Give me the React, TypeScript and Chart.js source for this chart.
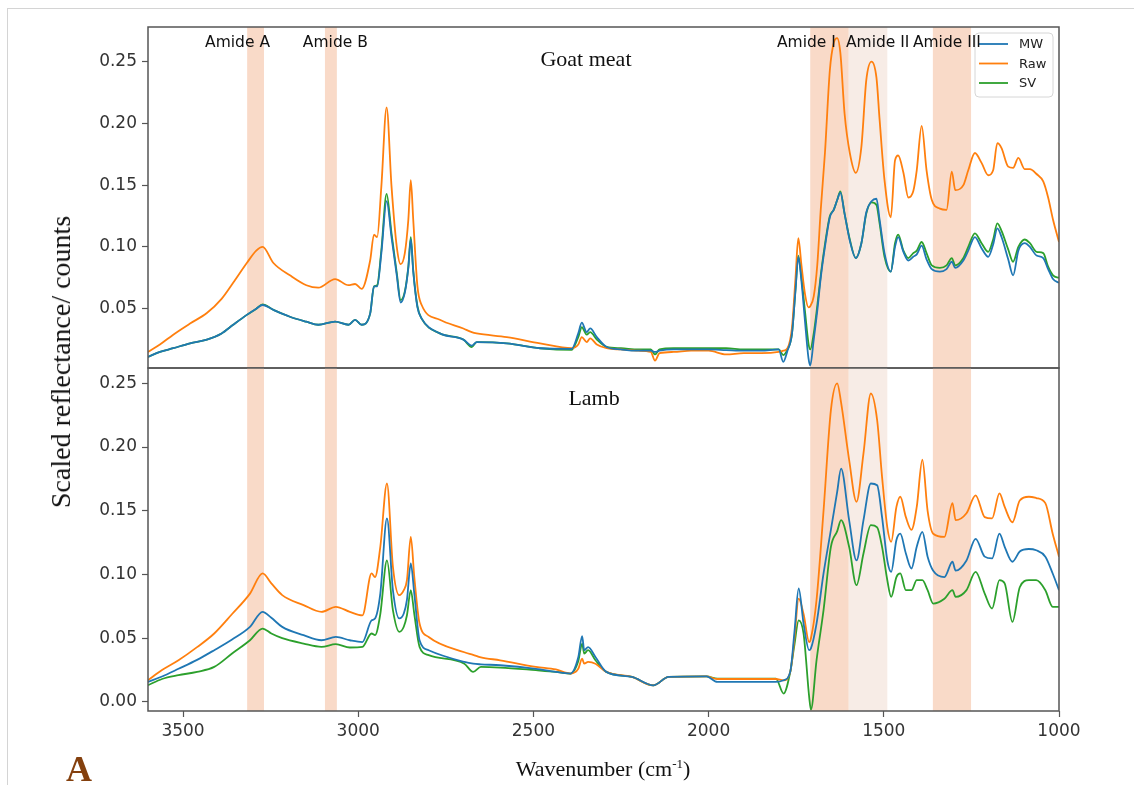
import React, { useEffect, useRef } from "react";
import { Chart, registerables } from "chart.js";

Chart.register(...registerables);

// ---- Goat meat spectra (wavenumber in cm-1, scaled reflectance) ----
const goatWavenumbers = [
  3600, 3566, 3528, 3480, 3432, 3390, 3357, 3318, 3291, 3273,
  3242, 3195, 3148, 3114, 3066, 3028, 3009, 2990, 2966, 2955,
  2946, 2934, 2919, 2905, 2890, 2879, 2867, 2857, 2850, 2843,
  2831, 2819, 2767, 2700, 2676, 2662, 2576, 2481, 2391, 2372,
  2362, 2348, 2338, 2319, 2291, 2250, 2200, 2165, 2153, 2140,
  2100, 2050, 2000, 1950, 1900, 1850, 1800, 1787, 1775, 1762,
  1752, 1744, 1735, 1725, 1715, 1710, 1700, 1690, 1680, 1668,
  1654, 1643, 1633, 1624, 1612, 1597, 1580, 1564, 1550, 1535,
  1521, 1512, 1498, 1480, 1468, 1459, 1444, 1430, 1416, 1406,
  1392, 1378, 1363, 1340, 1321, 1306, 1296, 1273, 1259, 1240,
  1221, 1202, 1188, 1176, 1164, 1145, 1131, 1116, 1098, 1083,
  1064, 1045, 1031, 1017, 1000,
];
const goatRaw = [
  0.015, 0.021, 0.029, 0.038, 0.0465, 0.058, 0.071, 0.087, 0.097, 0.1,
  0.087, 0.077, 0.069, 0.067, 0.074, 0.069, 0.07, 0.066, 0.089, 0.11,
  0.108, 0.149, 0.213, 0.149, 0.1, 0.086, 0.095, 0.122, 0.154, 0.122,
  0.068, 0.053, 0.041, 0.034, 0.031, 0.03, 0.027, 0.022, 0.018, 0.021,
  0.027, 0.023, 0.026, 0.021, 0.018, 0.017, 0.016, 0.015, 0.008, 0.014,
  0.015, 0.016, 0.016, 0.013, 0.014, 0.014, 0.015, 0.016, 0.018, 0.035,
  0.075, 0.107, 0.085, 0.062, 0.051, 0.052, 0.06, 0.085, 0.13, 0.176,
  0.243, 0.265, 0.269, 0.257, 0.208, 0.176, 0.16, 0.181, 0.235, 0.25,
  0.237, 0.203, 0.154, 0.124, 0.17, 0.174, 0.16, 0.14, 0.145, 0.162,
  0.198, 0.162, 0.138, 0.131, 0.13, 0.161, 0.146, 0.15, 0.162, 0.176,
  0.168, 0.158, 0.162, 0.184, 0.18, 0.165, 0.164, 0.172, 0.163, 0.163,
  0.159, 0.153, 0.14, 0.122, 0.104,
];
const goatMW = [
  0.011, 0.015, 0.018, 0.022, 0.025, 0.03, 0.037, 0.045, 0.05, 0.053,
  0.049, 0.0435, 0.0395, 0.037, 0.0395, 0.037, 0.041, 0.037, 0.046, 0.068,
  0.068, 0.095, 0.137, 0.108, 0.077, 0.055, 0.063, 0.083, 0.106, 0.08,
  0.051, 0.042, 0.03, 0.025, 0.02, 0.023, 0.022, 0.018, 0.0175, 0.03,
  0.0387, 0.031, 0.034, 0.027, 0.019, 0.017, 0.016, 0.016, 0.015, 0.016,
  0.017, 0.017, 0.017, 0.0165, 0.016, 0.016, 0.017, 0.007, 0.016, 0.03,
  0.065, 0.092, 0.072, 0.04, 0.01, 0.004, 0.025, 0.048, 0.075, 0.1,
  0.124, 0.13, 0.138, 0.144, 0.127, 0.105, 0.091, 0.103, 0.128, 0.137,
  0.139, 0.122, 0.095, 0.08, 0.1, 0.108, 0.096, 0.089, 0.092, 0.094,
  0.101, 0.09, 0.082, 0.08, 0.082, 0.088, 0.083, 0.089, 0.097, 0.108,
  0.099, 0.092, 0.102, 0.115, 0.108, 0.09, 0.077, 0.097, 0.103, 0.1,
  0.093, 0.091, 0.082, 0.074, 0.071,
];
const goatSV = [
  0.011, 0.015, 0.018, 0.022, 0.025, 0.03, 0.037, 0.045, 0.05, 0.0535,
  0.049, 0.0435, 0.0395, 0.037, 0.0395, 0.037, 0.041, 0.037, 0.046, 0.068,
  0.069, 0.0975, 0.143, 0.111, 0.079, 0.057, 0.064, 0.084, 0.108, 0.081,
  0.052, 0.042, 0.03, 0.025, 0.019, 0.023, 0.022, 0.018, 0.0166, 0.027,
  0.035, 0.029, 0.031, 0.025, 0.019, 0.018, 0.017, 0.017, 0.013, 0.017,
  0.018, 0.018, 0.018, 0.018, 0.017, 0.017, 0.017, 0.0125, 0.017, 0.03,
  0.066, 0.093, 0.075, 0.048, 0.022, 0.017, 0.03, 0.052, 0.077, 0.102,
  0.125, 0.13, 0.138, 0.145, 0.127, 0.106, 0.091, 0.103, 0.127, 0.136,
  0.134, 0.119, 0.092, 0.08, 0.103, 0.11, 0.097, 0.091, 0.095, 0.097,
  0.104, 0.095, 0.085, 0.083, 0.085, 0.091, 0.085, 0.091, 0.1, 0.111,
  0.103, 0.096, 0.106, 0.119, 0.113, 0.098, 0.088, 0.1, 0.106, 0.103,
  0.096, 0.095, 0.084, 0.077, 0.075,
];

// ---- Lamb spectra ----
const lambWavenumbers = [
  3600, 3560, 3513, 3460, 3411, 3360, 3309, 3273, 3248, 3217,
  3156, 3105, 3064, 3024, 2988, 2962, 2952, 2937, 2918, 2901,
  2883, 2870, 2861, 2850, 2840, 2825, 2799, 2697, 2672, 2650,
  2595, 2493, 2436, 2394, 2372, 2361, 2355, 2344, 2323, 2292,
  2219, 2158, 2114, 2006, 1975, 1900, 1808, 1786, 1767, 1755,
  1743, 1729, 1713, 1708, 1692, 1672, 1651, 1633, 1622, 1599,
  1578, 1558, 1537, 1519, 1505, 1490, 1479, 1464, 1453, 1437,
  1421, 1406, 1390, 1375, 1359, 1327, 1304, 1295, 1264, 1238,
  1212, 1191, 1170, 1155, 1133, 1112, 1086, 1065, 1039, 1018,
  1000,
];
const lambRaw = [
  0.017, 0.025, 0.0327, 0.043, 0.0537, 0.069, 0.085, 0.1008, 0.093, 0.0838,
  0.076, 0.0707, 0.0746, 0.0707, 0.068, 0.1008, 0.098, 0.1217, 0.1714, 0.106,
  0.0838, 0.0877, 0.0955, 0.1295, 0.098, 0.0615, 0.051, 0.039, 0.037, 0.035,
  0.0327, 0.0275, 0.0255, 0.0223, 0.026, 0.034, 0.03, 0.0314, 0.03, 0.0236,
  0.0196, 0.013, 0.0196, 0.02, 0.018, 0.018, 0.018, 0.017, 0.0236, 0.05,
  0.081, 0.069, 0.047, 0.05, 0.08, 0.15, 0.229, 0.25, 0.235, 0.19,
  0.157, 0.195, 0.242, 0.221, 0.1766, 0.137, 0.1256, 0.153, 0.161, 0.145,
  0.135, 0.153, 0.19, 0.15, 0.132, 0.1295, 0.156, 0.1426, 0.148, 0.162,
  0.145, 0.144, 0.1636, 0.153, 0.141, 0.158, 0.161, 0.16, 0.156, 0.132,
  0.114,
];
const lambMW = [
  0.0157, 0.02, 0.026, 0.033, 0.0406, 0.049, 0.0589, 0.0707, 0.066, 0.0589,
  0.0524, 0.0484, 0.051, 0.0484, 0.047, 0.064, 0.0655, 0.085, 0.144, 0.0877,
  0.0655, 0.0694, 0.08, 0.1087, 0.085, 0.0484, 0.0406, 0.0314, 0.03, 0.0295,
  0.0288, 0.026, 0.0236, 0.0223, 0.035, 0.0516, 0.0406, 0.043, 0.0353, 0.0236,
  0.0196, 0.013, 0.0196, 0.02, 0.0157, 0.0157, 0.0157, 0.017, 0.0236, 0.055,
  0.089, 0.0615, 0.0406, 0.042, 0.0615, 0.1008, 0.135, 0.165, 0.183, 0.1426,
  0.111, 0.1426, 0.1714, 0.17, 0.145, 0.111, 0.102, 0.127, 0.132, 0.1165,
  0.1047, 0.1217, 0.1335, 0.114, 0.103, 0.098, 0.11, 0.103, 0.111, 0.128,
  0.114, 0.1126, 0.132, 0.1217, 0.11, 0.118, 0.12, 0.119, 0.114, 0.1008,
  0.0877,
];
const lambSV = [
  0.0131, 0.018, 0.021, 0.0236, 0.0275, 0.038, 0.0484, 0.0576, 0.0537, 0.05,
  0.0458, 0.0432, 0.0453, 0.0427, 0.0432, 0.0537, 0.0524, 0.069, 0.111, 0.072,
  0.055, 0.059, 0.068, 0.0877, 0.069, 0.0432, 0.0367, 0.03, 0.0236, 0.0275,
  0.027, 0.0249, 0.0236, 0.0223, 0.032, 0.0458, 0.038, 0.0406, 0.0327, 0.0236,
  0.0196, 0.013, 0.0196, 0.02, 0.0183, 0.0183, 0.0183, 0.0066, 0.0236, 0.045,
  0.064, 0.0537, 0.004, -0.006, 0.0327, 0.072, 0.1217, 0.134, 0.1426, 0.1217,
  0.0916, 0.1165, 0.1387, 0.137, 0.1217, 0.0955, 0.0824, 0.098, 0.1008, 0.0877,
  0.0877, 0.0955, 0.0955, 0.0877, 0.0772, 0.081, 0.0877, 0.0824, 0.0877, 0.102,
  0.085, 0.0733, 0.0955, 0.093, 0.0628, 0.09, 0.0955, 0.0955, 0.0877, 0.0746,
  0.0746,
];

const seriesNames = ["MW", "Raw", "SV"];
const seriesColors = ["#1f77b4", "#ff7f0e", "#2ca02c"];

// Amide regions (cm-1) and where their labels start
const bandNames = ["Amide A", "Amide B", "Amide I", "Amide II", "Amide III"];
const bandHigh = [3317, 3095, 1710, 1600, 1360];
const bandLow = [3269, 3061, 1600, 1490, 1251];
const bandLabelAt = [3437, 3158, 1805, 1608, 1417];

const wavenumberTicks = [3500, 3000, 2500, 2000, 1500, 1000];
const goatTicks = [0.05, 0.1, 0.15, 0.2, 0.25];
const lambTicks = [0, 0.05, 0.1, 0.15, 0.2, 0.25];

const FRAME = "#555555";
const TICK_COLOR = "#333333";
const SANS = "'DejaVu Sans', sans-serif";
const SERIF = "'Liberation Serif', 'Times New Roman', serif";

type Panel = {
  wavenumbers: number[];
  mw: number[];
  raw: number[];
  sv: number[];
  yMin: number;
  yMax: number;
  yTicks: number[];
  title: string;
  titleX: number;
  titleDy: number;
  showX: boolean;
  showLabels: boolean;
  padding: { left: number; right: number; top: number; bottom: number };
};

function panelConfig(p: Panel): any {
  const series = [p.mw, p.raw, p.sv];

  const bandsPlugin = {
    id: "amideBands",
    beforeDatasetsDraw(chart: any) {
      const { ctx, chartArea, scales } = chart;
      ctx.save();
      bandNames.forEach((_, i) => {
        const a = scales.x.getPixelForValue(bandHigh[i]);
        const b = scales.x.getPixelForValue(bandLow[i]);
        ctx.fillStyle = i === 3 ? "#f7ece6" : "#f9dac8";
        ctx.fillRect(Math.min(a, b), chartArea.top, Math.abs(b - a), chartArea.bottom - chartArea.top);
      });
      ctx.restore();
    },
  };

  const decorPlugin = {
    id: "panelDecor",
    afterDatasetsDraw(chart: any) {
      const { ctx, chartArea, scales } = chart;
      ctx.save();
      // panel title
      ctx.fillStyle = "#111";
      ctx.font = `22px ${SERIF}`;
      ctx.textAlign = "center";
      ctx.textBaseline = "middle";
      ctx.fillText(p.title, scales.x.getPixelForValue(p.titleX), chartArea.top + p.titleDy);

      if (p.showLabels) {
        // legend box
        const w = 78;
        const h = 64;
        const left = chartArea.right - 6 - w;
        const top = chartArea.top + 6;
        ctx.beginPath();
        ctx.roundRect(left, top, w, h, 4);
        ctx.fillStyle = "rgba(255,255,255,0.8)";
        ctx.fill();
        ctx.strokeStyle = "#d6d6d6";
        ctx.lineWidth = 1;
        ctx.stroke();
        ctx.font = `13px ${SANS}`;
        ctx.textAlign = "left";
        seriesNames.forEach((name, k) => {
          const y = top + 11 + k * 19.5;
          ctx.strokeStyle = seriesColors[k];
          ctx.lineWidth = 1.8;
          ctx.beginPath();
          ctx.moveTo(left + 4, y);
          ctx.lineTo(left + 33, y);
          ctx.stroke();
          ctx.fillStyle = "#222";
          ctx.fillText(name, left + 44, y + 1);
        });

        // amide labels, drawn above everything else
        ctx.font = `15.5px ${SANS}`;
        ctx.fillStyle = "#111";
        bandNames.forEach((name, i) => {
          ctx.fillText(name, scales.x.getPixelForValue(bandLabelAt[i]), chartArea.top + 16);
        });
      }
      ctx.restore();
    },
    afterDraw(chart: any) {
      const { ctx, chartArea } = chart;
      ctx.save();
      ctx.strokeStyle = FRAME;
      ctx.lineWidth = 1.5;
      ctx.strokeRect(chartArea.left, chartArea.top, chartArea.right - chartArea.left, chartArea.bottom - chartArea.top);
      ctx.restore();
    },
  };

  return {
    type: "line",
    data: {
      datasets: series.map((vals, k) => ({
        label: seriesNames[k],
        data: p.wavenumbers.map((w, i) => ({ x: w, y: vals[i] })),
        borderColor: seriesColors[k],
        backgroundColor: seriesColors[k],
        borderWidth: 1.8,
        pointRadius: 0,
        cubicInterpolationMode: "monotone",
        fill: false,
      })),
    },
    options: {
      animation: false,
      responsive: false,
      devicePixelRatio: 1,
      layout: { padding: p.padding },
      plugins: { legend: { display: false }, tooltip: { enabled: false } },
      scales: {
        x: {
          type: "linear",
          reverse: true,
          min: 1000,
          max: 3600,
          display: p.showX,
          afterFit: (s: any) => {
            s.height = p.showX ? 40 : 0;
          },
          afterBuildTicks: (s: any) => {
            s.ticks = wavenumberTicks.map((value) => ({ value }));
          },
          ticks: {
            autoSkip: false,
            maxRotation: 0,
            color: TICK_COLOR,
            font: { family: SANS, size: 17 },
            padding: 4,
            callback: (v: any) => String(v),
          },
          grid: { drawOnChartArea: false, tickLength: 6, tickColor: FRAME, tickWidth: 1.2 },
          border: { display: false },
        },
        y: {
          type: "linear",
          min: p.yMin,
          max: p.yMax,
          afterFit: (s: any) => {
            s.width = 60;
          },
          afterBuildTicks: (s: any) => {
            s.ticks = p.yTicks.map((value) => ({ value }));
          },
          ticks: {
            color: TICK_COLOR,
            font: { family: SANS, size: 17 },
            padding: 5,
            callback: (v: any) => Number(v).toFixed(2),
          },
          grid: { drawOnChartArea: false, tickLength: 6, tickColor: FRAME, tickWidth: 1.2 },
          border: { display: false },
        },
      },
    },
    plugins: [bandsPlugin, decorPlugin],
  };
}

export default function App() {
  const topRef = useRef<HTMLCanvasElement>(null);
  const bottomRef = useRef<HTMLCanvasElement>(null);

  useEffect(() => {
    const goat = new Chart(
      topRef.current as HTMLCanvasElement,
      panelConfig({
        wavenumbers: goatWavenumbers,
        mw: goatMW,
        raw: goatRaw,
        sv: goatSV,
        yMin: 0.002,
        yMax: 0.278,
        yTicks: goatTicks,
        title: "Goat meat",
        titleX: 2350,
        titleDy: 33,
        showX: false,
        showLabels: true,
        padding: { left: 88, right: 75, top: 27, bottom: 22 },
      })
    );
    const lamb = new Chart(
      bottomRef.current as HTMLCanvasElement,
      panelConfig({
        wavenumbers: lambWavenumbers,
        mw: lambMW,
        raw: lambRaw,
        sv: lambSV,
        yMin: -0.0071,
        yMax: 0.262,
        yTicks: lambTicks,
        title: "Lamb",
        titleX: 2327,
        titleDy: 31,
        showX: true,
        showLabels: false,
        padding: { left: 88, right: 75, top: 18, bottom: 34 },
      })
    );
    return () => {
      goat.destroy();
      lamb.destroy();
    };
  }, []);

  return (
    <div style={{ position: "absolute", left: 0, top: 0, width: 1134, height: 785, overflow: "hidden", background: "#fff" }}>
      <div
        style={{
          position: "absolute",
          left: 7,
          top: 8,
          width: 1127,
          height: 777,
          borderTop: "1px solid #d4d4d4",
          borderLeft: "1px solid #d4d4d4",
          boxSizing: "border-box",
        }}
      />
      <canvas ref={topRef} width={1134} height={390} style={{ position: "absolute", left: 0, top: 0, width: 1134, height: 390 }} />
      <canvas ref={bottomRef} width={1134} height={435} style={{ position: "absolute", left: 0, top: 350, width: 1134, height: 435 }} />
      <div
        style={{
          position: "absolute",
          left: 60.5,
          top: 362,
          transform: "translate(-50%, -50%) rotate(-90deg)",
          whiteSpace: "nowrap",
          fontFamily: SERIF,
          fontSize: 28,
          color: "#111",
        }}
      >
        Scaled reflectance/ counts
      </div>
      <div
        style={{
          position: "absolute",
          left: 603,
          top: 758,
          transform: "translateX(-50%)",
          whiteSpace: "nowrap",
          fontFamily: SERIF,
          fontSize: 22,
          lineHeight: "22px",
          color: "#111",
        }}
      >
        Wavenumber (cm<sup style={{ fontSize: 13, lineHeight: 0 }}>-1</sup>)
      </div>
      <div
        style={{
          position: "absolute",
          left: 66,
          top: 751,
          fontFamily: SERIF,
          fontWeight: "bold",
          fontSize: 36,
          lineHeight: "36px",
          color: "#84400e",
        }}
      >
        A
      </div>
    </div>
  );
}
